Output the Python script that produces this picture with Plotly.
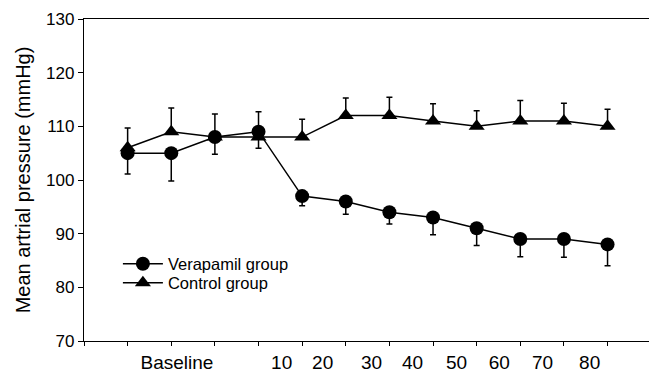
import plotly.graph_objects as go

# ---- data ----
x_pos = [1, 2, 3, 4, 5, 6, 7, 8, 9, 10, 11, 12]
verapamil = [105, 105, 108, 109, 97, 96, 94, 93, 91, 89, 89, 88]
verapamil_err = [3.9, 5.2, 3.2, 3.1, 1.8, 2.4, 2.2, 3.2, 3.2, 3.3, 3.4, 4.0]
control = [106, 109, 108, 108, 108, 112, 112, 111, 110, 111, 111, 110]
control_err = [3.7, 4.4, 4.3, 4.7, 3.3, 3.3, 3.4, 3.2, 2.9, 3.8, 3.3, 3.2]
label_text = ["Baseline", "10", "20", "30", "40", "50", "60", "70", "80"]
label_pos = [2.13, 4.53, 5.47, 6.59, 7.53, 8.54, 9.52, 10.51, 11.59]
tick_pos = list(range(0, 13))
y_ticks = [70, 80, 90, 100, 110, 120, 130]

FONT = "Liberation Sans, Arial, sans-serif"
zeros = [0] * len(x_pos)

fig = go.Figure()
fig.add_trace(go.Scatter(
    x=x_pos, y=verapamil, name="Verapamil group", mode="lines+markers",
    line=dict(color="black", width=1.5),
    marker=dict(symbol="circle", size=14, color="black"),
    error_y=dict(type="data", symmetric=False, array=zeros, arrayminus=verapamil_err,
                 color="black", thickness=1.5, width=3),
    legend="legend",
))
fig.add_trace(go.Scatter(
    x=x_pos, y=control, name="Control group", mode="lines+markers",
    line=dict(color="black", width=1.5),
    marker=dict(symbol="triangle-up", size=14, color="black"),
    error_y=dict(type="data", symmetric=False, array=control_err, arrayminus=zeros,
                 color="black", thickness=1.5, width=3),
    legend="legend2",
))
# invisible trace on the label axis so it renders
fig.add_trace(go.Scatter(x=[label_pos[0]], y=[None], xaxis="x2", showlegend=False,
                         hoverinfo="skip"))

leg_common = dict(xanchor="left", yanchor="middle", bgcolor="rgba(0,0,0,0)",
                  font=dict(size=16.5, family=FONT, color="black"), itemwidth=40)

fig.update_layout(
    width=650, height=376,
    margin=dict(l=84, r=1, t=19, b=35),
    paper_bgcolor="white", plot_bgcolor="white",
    font=dict(family=FONT, color="black"),
    xaxis=dict(range=[0, 12.95], tickvals=tick_pos, ticktext=[""] * len(tick_pos),
               ticks="outside", ticklen=4, tickwidth=1, tickcolor="black",
               showline=True, linecolor="black", linewidth=1.3, mirror=True,
               showgrid=False, zeroline=False),
    xaxis2=dict(range=[0, 12.95], overlaying="x", side="bottom", anchor="y",
                tickvals=label_pos, ticktext=label_text, ticks="",
                ticklabelstandoff=8,
                tickfont=dict(size=19, family=FONT, color="black"),
                showline=False, showgrid=False, zeroline=False),
    yaxis=dict(range=[70, 130], tickvals=y_ticks, ticks="outside", ticklen=5,
               tickwidth=1, tickcolor="black", showline=True, linecolor="black",
               linewidth=1.3, showgrid=False, zeroline=False,
               tickfont=dict(size=17, family=FONT, color="black"),
               title=dict(text="Mean artrial pressure (mmHg)",
                          font=dict(size=20, family=FONT, color="black"), standoff=10)),
    legend=dict(x=0.06, y=(341 - 264) / 322, **leg_common),
    legend2=dict(x=0.06, y=(341 - 283) / 322, **leg_common),
    showlegend=True,
)

fig.write_html("out.html")
